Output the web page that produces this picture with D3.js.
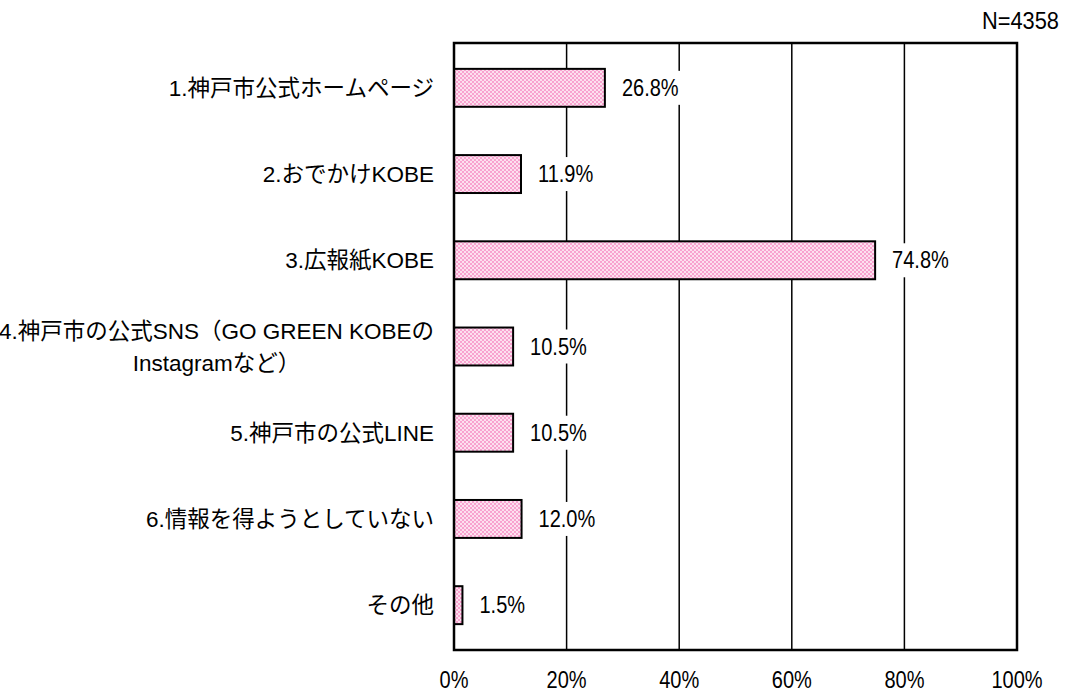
<!DOCTYPE html>
<html>
<head>
<meta charset="utf-8">
<script src="https://cdn.jsdelivr.net/npm/d3@7"></script>
<style>
  body { margin: 0; background: #fff; }
  text { font-family: "Liberation Sans", Arial, "Noto Sans CJK JP", sans-serif; }
</style>
</head>
<body>
<div id="chart"></div>
<script>
// data
const categories = [
  ["1.神戸市公式ホームページ"],
  ["2.おでかけKOBE"],
  ["3.広報紙KOBE"],
  ["4.神戸市の公式SNS（GO GREEN KOBEの", "Instagramなど）"],
  ["5.神戸市の公式LINE"],
  ["6.情報を得ようとしていない"],
  ["その他"]
];
const values = [26.8, 11.9, 74.8, 10.5, 10.5, 12.0, 1.5];
const tickValues = [0, 20, 40, 60, 80, 100];
const sampleLabel = "N=4358";

// dimensions
const W = 1065, H = 693;
const margin = { top: 43, right: 48, bottom: 43, left: 454 };
const width = W - margin.left - margin.right,
  height = H - margin.top - margin.bottom;
const NUM_SIZE = 23, NUM_SX = 0.87;   // narrow numerals like the original

const svg = d3.select("#chart")
  .append("svg")
  .attr("width", W)
  .attr("height", H);

// checkered pink fill
const defs = svg.append("defs");
const pat = defs.append("pattern")
  .attr("id", "pinkCheck")
  .attr("patternUnits", "userSpaceOnUse")
  .attr("width", 4).attr("height", 4);
pat.append("rect").attr("width", 4).attr("height", 4).attr("fill", "#fde0ef");
pat.append("rect").attr("width", 2).attr("height", 2).attr("fill", "#f8a3cf");
pat.append("rect").attr("x", 2).attr("y", 2).attr("width", 2).attr("height", 2).attr("fill", "#f8a3cf");

const g = svg.append("g")
  .attr("transform", `translate(${margin.left},${margin.top})`);

const x = d3.scaleLinear().domain([0, 100]).range([0, width]);
const y = d3.scaleBand()
  .domain(d3.range(values.length))
  .range([0, height])
  .paddingInner(0.56)
  .paddingOuter(0.3);

// narrow number text helper
const numText = (sel, px, py, anchor, txt, size, sx) => {
  sel.append("text")
    .attr("transform", `translate(${px},${py}) scale(${sx || NUM_SX},1)`)
    .attr("text-anchor", anchor)
    .attr("font-size", size || NUM_SIZE)
    .attr("fill", "#000")
    .text(txt);
}

// gridlines
g.selectAll(".grid")
  .data(tickValues.slice(1, -1))
  .enter().append("line")
  .attr("x1", d => x(d)).attr("x2", d => x(d))
  .attr("y1", 0).attr("y2", height)
  .attr("stroke", "#000")
  .attr("stroke-width", 1.5);

// x tick labels
const xt = g.append("g");
tickValues.forEach(t => numText(xt, x(t), height + 38, "middle", t + "%"));

// bars
g.selectAll(".bar")
  .data(values)
  .enter().append("rect")
  .attr("x", x(0))
  .attr("y", (d, i) => y(i))
  .attr("width", d => x(d))
  .attr("height", y.bandwidth())
  .attr("fill", "url(#pinkCheck)")
  .attr("stroke", "#000")
  .attr("stroke-width", 2);

// value labels with white background (interrupts gridlines)
values.forEach((d, i) => {
  const vg = g.append("g")
    .attr("transform", `translate(${x(d) + 17},${y(i) + y.bandwidth() / 2})`);
  const bg = vg.append("rect").attr("fill", "#fff");
  numText(vg, 0, 8, "start", d.toFixed(1) + "%");
  const w = vg.select("text").node().getBBox().width * NUM_SX;
  bg.attr("x", -5).attr("y", -17).attr("width", w + 10).attr("height", 34);
});

// plot border
g.append("rect")
  .attr("x", 0).attr("y", 0)
  .attr("width", width).attr("height", height)
  .attr("fill", "none")
  .attr("stroke", "#000")
  .attr("stroke-width", 2.5);

// category labels (multi-line labels are centred as a block, right aligned)
const catG = g.selectAll(".cat")
  .data(categories)
  .enter().append("g")
  .attr("transform", (d, i) => `translate(-20,${y(i) + y.bandwidth() / 2})`);
catG.each(function(lines) {
  const sel = d3.select(this);
  const lh = 32;
  const texts = lines.map((l, k) => sel.append("text")
    .attr("font-size", 22.5)
    .attr("fill", "#000")
    .attr("dy", "0.36em")
    .attr("y", (k - (lines.length - 1) / 2) * lh)
    .text(l));
  const maxW = d3.max(texts, t => t.node().getComputedTextLength());
  texts.forEach(t => t.attr("text-anchor", "middle").attr("x", -maxW / 2));
});

// sample size
numText(svg, 1059, 29, "end", sampleLabel, 23, 0.95);
</script>
</body>
</html>
